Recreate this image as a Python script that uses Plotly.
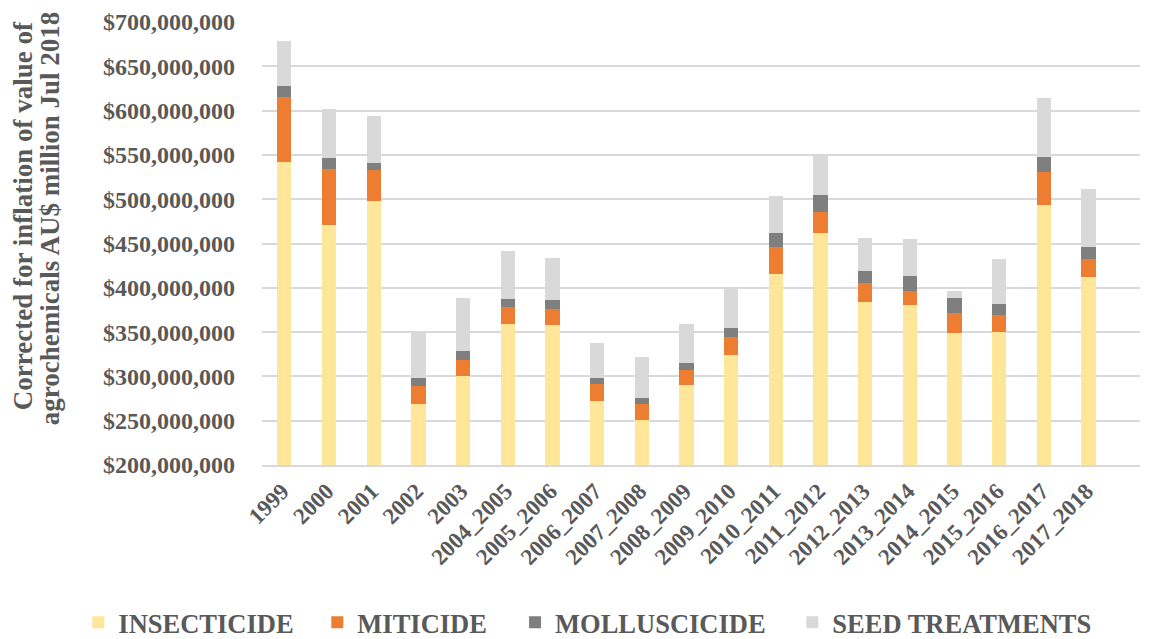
import plotly.graph_objects as go

categories = ["1999", "2000", "2001", "2002", "2003", "2004_2005", "2005_2006",
              "2006_2007", "2007_2008", "2008_2009", "2009_2010", "2010_2011",
              "2011_2012", "2012_2013", "2013_2014", "2014_2015", "2015_2016",
              "2016_2017", "2017_2018"]

# values in AU$ millions
insecticide = [542, 471, 498, 268.4, 300, 359, 357.9, 272.6, 250.8, 290.6, 323.7,
               415.8, 462.4, 384.2, 380.8, 349.2, 350, 494, 412]
miticide = [73, 63.5, 34.6, 20.3, 18, 19.6, 17.7, 18.8, 17.6, 16.2, 20.7,
            30.1, 23.7, 20.7, 15.1, 21.8, 19.5, 36.8, 20.3]
molluscicide = [13, 11.6, 8.3, 9.8, 10.9, 9, 10.1, 6.7, 7.5, 8.6, 10.5,
                15.7, 18.4, 14.3, 17.2, 17, 12.1, 16.6, 13.6]
seed_treatments = [51, 55.3, 53.4, 51.1, 59.4, 54.1, 47.7, 39.5, 45.5, 43.6, 44.7,
                   42.1, 44, 36.8, 42.5, 8.2, 50.7, 66.9, 65.7]

tick_vals = [200e6, 250e6, 300e6, 350e6, 400e6, 450e6, 500e6, 550e6, 600e6, 650e6, 700e6]
tick_text = ["$200,000,000", "$250,000,000", "$300,000,000", "$350,000,000",
             "$400,000,000", "$450,000,000", "$500,000,000", "$550,000,000",
             "$600,000,000", "$650,000,000", "$700,000,000"]

series_names = ["INSECTICIDE", "MITICIDE", "MOLLUSCICIDE", "SEED TREATMENTS"]
series_values = [insecticide, miticide, molluscicide, seed_treatments]
series_colors = ["#FFE699", "#ED7D31", "#7F7F7F", "#D9D9D9"]
legend_ids = ["legend", "legend2", "legend3", "legend4"]
legend_x = [-0.2092, 0.0630, 0.2882, 0.6040]

FONT = "Liberation Serif"
GRAY = "#595959"

fig = go.Figure()
for name, vals, color, lid in zip(series_names, series_values, series_colors, legend_ids):
    fig.add_trace(go.Bar(
        name=name, x=categories, y=[v * 1e6 for v in vals],
        marker=dict(color=color, line=dict(width=0)),
        legend=lid,
    ))

legend_font = dict(family=FONT, size=26.5, color=GRAY, weight="bold")
legend_layout = {}
for lid, lx in zip(legend_ids, legend_x):
    legend_layout[lid] = dict(
        orientation="h", x=lx, xanchor="left", y=-0.3556, yanchor="middle",
        font=legend_font, bgcolor="rgba(0,0,0,0)", borderwidth=0,
    )

fig.update_layout(
    template="none",
    barmode="stack",
    bargap=0.68,
    width=1141, height=631,
    margin=dict(l=254, r=9, t=14, b=174, autoexpand=False),
    plot_bgcolor="white", paper_bgcolor="white",
    font=dict(family=FONT, color=GRAY, size=21),
    xaxis=dict(
        type="category",
        automargin=False,
        range=[-0.5, 19.15],
        tickangle=-45,
        tickfont=dict(family=FONT, size=23, color=GRAY, weight="bold"),
        showgrid=False,
        showline=True, linecolor="#D9D9D9", linewidth=1.5,
        ticks="outside", ticklen=2, tickcolor="rgba(0,0,0,0)",
        ticklabelshift=-2,
    ),
    yaxis=dict(
        automargin=False,
        range=[200e6, 700e6],
        tickvals=tick_vals, ticktext=tick_text,
        tickfont=dict(family=FONT, size=24, color=GRAY, weight="bold"),
        showgrid=True, gridcolor="#D9D9D9", gridwidth=1.5,
        zeroline=False, showline=False,
        ticks="", ticklabelstandoff=26,
    ),
    showlegend=True,
    **legend_layout,
)

title_font = dict(family=FONT, size=27, color=GRAY, weight="bold")
fig.add_annotation(
    text="Corrected for inflation of value of",
    xref="paper", yref="paper",
    x=-0.2726, y=0.563, xanchor="center", yanchor="middle",
    textangle=-90, showarrow=False, font=title_font,
)
fig.add_annotation(
    text="agrochemicals AU$ million Jul 2018",
    xref="paper", yref="paper",
    x=-0.2415, y=0.557, xanchor="center", yanchor="middle",
    textangle=-90, showarrow=False, font=title_font,
)

fig.write_html("out.html")
